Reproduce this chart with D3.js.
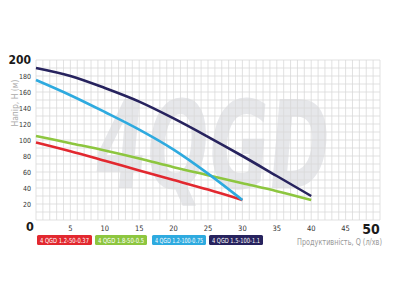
<!DOCTYPE html>
<html><head><meta charset="utf-8">
<script src="https://cdn.jsdelivr.net/npm/d3@7"></script>
<style>body{margin:0;background:#fff}svg{display:block}text{font-stretch:condensed}</style>
</head><body>
<svg id="c" width="400" height="300"></svg>
<script>
const flowQ = [0,5,10,15,20,25,30,35,40];
const seriesNames = ["4 QGD 1.2-50-0.37","4 QGD 1.8-50-0.5","4 QGD 1.2-100-0.75","4 QGD 1.5-100-1.1"];
const seriesColors = ["#e2282f","#8dc63f","#2eaadf","#27235e"];
const red = [97,86,74,62,50,38,25];
const green = [105,96,87,77,66,56,46,36,25];
const blue = [175,156,135,113,88,58,25];
const navy = [190,180,165,148,127,104,80,55,30];
const seriesValues = [red, green, blue, navy];
const xTicks = [5,10,15,20,25,30,35,40,45];
const yTicks = [20,40,60,80,100,120,140,160,180];

const svg = d3.select("#c");
const x = d3.scaleLinear().domain([0,50]).range([36,380]);
const y = d3.scaleLinear().domain([0,200]).range([220,60]);
const cond = "'DejaVu Sans Condensed','DejaVu Sans',sans-serif";

// watermark (behind grid)
svg.append("text").text("4QGD")
  .attr("x",0).attr("y",0)
  .attr("transform","translate(92,188) skewX(-5)")
  .attr("font-family",cond).attr("font-stretch","condensed")
  .attr("font-weight","bold").attr("font-size",122)
  .attr("textLength",234).attr("lengthAdjust","spacingAndGlyphs")
  .attr("fill","#e6e7ea");

// grid
const g = svg.append("g");
g.selectAll("line.v").data(d3.range(0,51,1)).join("line")
  .attr("x1",d=>x(d)).attr("x2",d=>x(d)).attr("y1",y(0)).attr("y2",y(200))
  .attr("stroke","#d9d9d9").attr("stroke-width",0.8);
g.selectAll("line.h").data(d3.range(0,201,10)).join("line")
  .attr("y1",d=>y(d)).attr("y2",d=>y(d)).attr("x1",x(0)).attr("x2",x(50))
  .attr("stroke","#d9d9d9").attr("stroke-width",0.8);

// lines
const line = d3.line().x((d,i)=>x(flowQ[i])).y(d=>y(d)).curve(d3.curveMonotoneX);
seriesValues.forEach((vals,k)=>{
  svg.append("path").datum(vals).attr("d",line)
    .attr("fill","none").attr("stroke",seriesColors[k]).attr("stroke-width",2.6);
});

// axes ticks
svg.append("g").selectAll("text").data(xTicks).join("text")
  .attr("x",d=>x(d)).attr("y",231).attr("text-anchor","middle")
  .attr("font-family",cond).attr("font-size",7.5).attr("fill","#333").text(d=>d);
svg.append("g").selectAll("text").data(yTicks).join("text")
  .attr("x",31).attr("y",d=>y(d)+3).attr("text-anchor","end")
  .attr("font-family",cond).attr("font-size",7).attr("fill","#333").text(d=>d);
svg.append("text").attr("x",31).attr("y",64).attr("text-anchor","end")
  .attr("font-family",cond).attr("font-weight","bold").attr("font-size",12).attr("fill","#1a1a1a").text("200");
svg.append("text").attr("x",30).attr("y",231).attr("text-anchor","middle")
  .attr("font-family",cond).attr("font-weight","bold").attr("font-size",12.5).attr("fill","#1a1a1a").text("0");
svg.append("text").attr("x",x(50)-9).attr("y",234).attr("text-anchor","middle")
  .attr("font-family",cond).attr("font-weight","bold").attr("font-size",14).attr("fill","#1a1a1a").text("50");

// axis titles
svg.append("text").attr("transform","translate(18,103) rotate(-90)").attr("text-anchor","middle")
  .attr("font-family",cond).attr("font-size",8.5).attr("fill","#aaa").text("Напір, H (м)");
svg.append("text").attr("x",382).attr("y",245).attr("text-anchor","end")
  .attr("font-family",cond).attr("font-size",8.5).attr("fill","#999")
  .attr("textLength",85).attr("lengthAdjust","spacingAndGlyphs").text("Продуктивність, Q (л/хв)");

// legend
const legX = [37,95,152,209], legW = [55,52,54,54];
const leg = svg.append("g").selectAll("g").data(seriesNames).join("g");
leg.append("rect").attr("x",(d,i)=>legX[i]).attr("y",235).attr("width",(d,i)=>legW[i]).attr("height",10)
  .attr("rx",1.5).attr("fill",(d,i)=>seriesColors[i]);
leg.append("text").attr("x",(d,i)=>legX[i]+3).attr("y",243)
  .attr("textLength",(d,i)=>legW[i]-6).attr("lengthAdjust","spacingAndGlyphs")
  .attr("font-family",cond).attr("font-size",7).attr("fill","#fff").text(d=>d);
</script>
</body></html>
